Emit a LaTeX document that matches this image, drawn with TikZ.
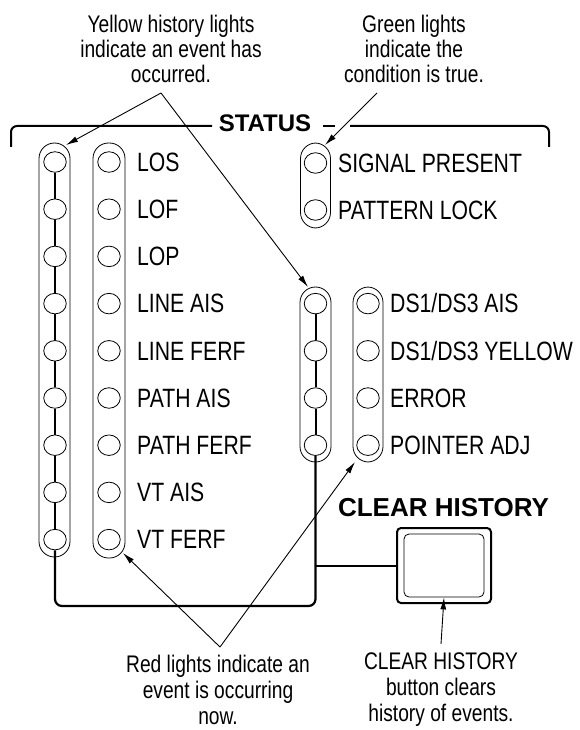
\documentclass[tikz,border=0pt]{standalone}
\usepackage{fontspec}
\setmainfont{Liberation Sans}[FakeStretch=0.8]
\newfontfamily\widesans{Liberation Sans}
\usetikzlibrary{arrows.meta,shapes.geometric}
\begin{document}
\begin{tikzpicture}[x=1pt,y=-1pt,
  lamp/.style={draw, ellipse, minimum width=22.5pt, minimum height=20.5pt, inner sep=0pt, line width=0.8pt},
  capsule/.style={draw, line width=0.8pt, rounded corners=15.5pt},
  lbl/.style={anchor=base west, inner sep=0pt, font=\fontsize{26.5}{30}\selectfont},
  note/.style={align=center, inner sep=0pt, font=\fontsize{24}{25}\selectfont},
  bnote/.style={align=center, inner sep=0pt, font=\fontsize{24}{26}\selectfont},
  chain/.style={line width=2pt},
  bus/.style={line width=2.2pt, rounded corners=7pt},
  bracket/.style={line width=2pt, rounded corners=6pt},
  pointer/.style={line width=0.9pt, -{Latex[length=12pt,width=6pt]}}
]
\useasboundingbox (0,0) rectangle (579,730);

% status bracket
\draw[bracket] (11,147) -- (11,126) -- (212,126);
\draw[line width=2pt] (323,126) -- (335,126);
\draw[bracket] (350,126) -- (549,126) -- (549,147);
\node[inner sep=0pt, font=\widesans\bfseries\fontsize{24}{28}\selectfont] (status) at (265,123) {STATUS};

% capsules
\draw[capsule] (39,143) rectangle (70,557);
\draw[capsule] (93,143) rectangle (125,558);
\draw[capsule] (300.5,143) rectangle (330.5,228);
\draw[capsule] (300,287) rectangle (331,462);
\draw[capsule] (353,287) rectangle (383,462);

% left columns
\foreach \i/\t in {0/LOS,1/LOF,2/LOP,3/LINE AIS,4/LINE FERF,5/PATH AIS,6/PATH FERF,7/VT AIS,8/VT FERF}{
  \pgfmathsetmacro\yy{162+47.2*\i}
  \node[lamp] (y\i) at (55,\yy) {};
  \node[lamp] (r\i) at (109,\yy) {};
  \node[lbl] (t\i) at (137,{\yy+9.3}) {\t};
}
\foreach \i [count=\j] in {0,...,7}{ \draw[chain] (y\i) -- (y\j); }

% green
\foreach \i/\t in {0/SIGNAL PRESENT,1/PATTERN LOCK}{
  \pgfmathsetmacro\yy{163+47*\i}
  \node[lamp] (g\i) at (315.5,\yy) {};
  \node[lbl] (gt\i) at (338,{\yy+9.3}) {\t};
}

% middle columns
\foreach \i/\t in {3/{DS1/DS3 AIS},4/{DS1/DS3 YELLOW},5/ERROR,6/POINTER ADJ}{
  \pgfmathsetmacro\yy{162+47.2*\i}
  \node[lamp] (my\i) at (315.5,\yy) {};
  \node[lamp] (mr\i) at (368,\yy) {};
  \node[lbl] (mt\i) at (390,{\yy+9.3}) {\t};
}
\foreach \i [count=\j from 4] in {3,4,5}{ \draw[chain] (my\i) -- (my\j); }

% button
\node[draw, line width=2pt, rounded corners=4pt, minimum width=94pt, minimum height=75pt, inner sep=0pt] (btn) at (444,565.5) {};
\node[draw, line width=0.8pt, rounded corners=5pt, minimum width=80pt, minimum height=63pt, inner sep=0pt] (btnin) at (444,565.5) {};
\node[inner sep=0pt, font=\widesans\bfseries\fontsize{26}{30}\selectfont] (clr) at (443.5,508) {CLEAR HISTORY};

% bus
\coordinate (busL) at (55,606);
\coordinate (busR) at (315.5,606);
\coordinate (br) at (315.5,565.5);
\draw[bus] (y8) -- (busL) -- (busR) -- (my6);
\draw[chain] (br) -- (btn.west);

% notes
\node[note] (ynote) at (171,49) {Yellow history lights\\indicate an event has\\occurred.};
\node[note] (gnote) at (414,49) {Green lights\\indicate the\\condition is true.};
\node[bnote] (rnote) at (218,690) {Red lights indicate an\\event is occurring\\now.};
\node[bnote] (cnote) at (441,690) {CLEAR HISTORY\\button clears\\history of events.};

% pointers
\coordinate (yapex) at (161,93);
\coordinate (ytipA) at (66,145);
\coordinate (ytipB) at (308,287);
\coordinate (gstart) at (377,93);
\coordinate (gtip) at (325,145);
\coordinate (rapex) at (220,647);
\coordinate (rtipA) at (123,553);
\coordinate (rtipB) at (355,462);
\coordinate (cstart) at (441,644);
\draw[pointer] (yapex) -- (ytipA);
\draw[pointer] (yapex) -- (ytipB);
\draw[pointer] (gstart) -- (gtip);
\draw[pointer] (rapex) -- (rtipA);
\draw[pointer] (rapex) -- (rtipB);
\draw[pointer] (cstart) -- (btnin.south);
\end{tikzpicture}
\end{document}
